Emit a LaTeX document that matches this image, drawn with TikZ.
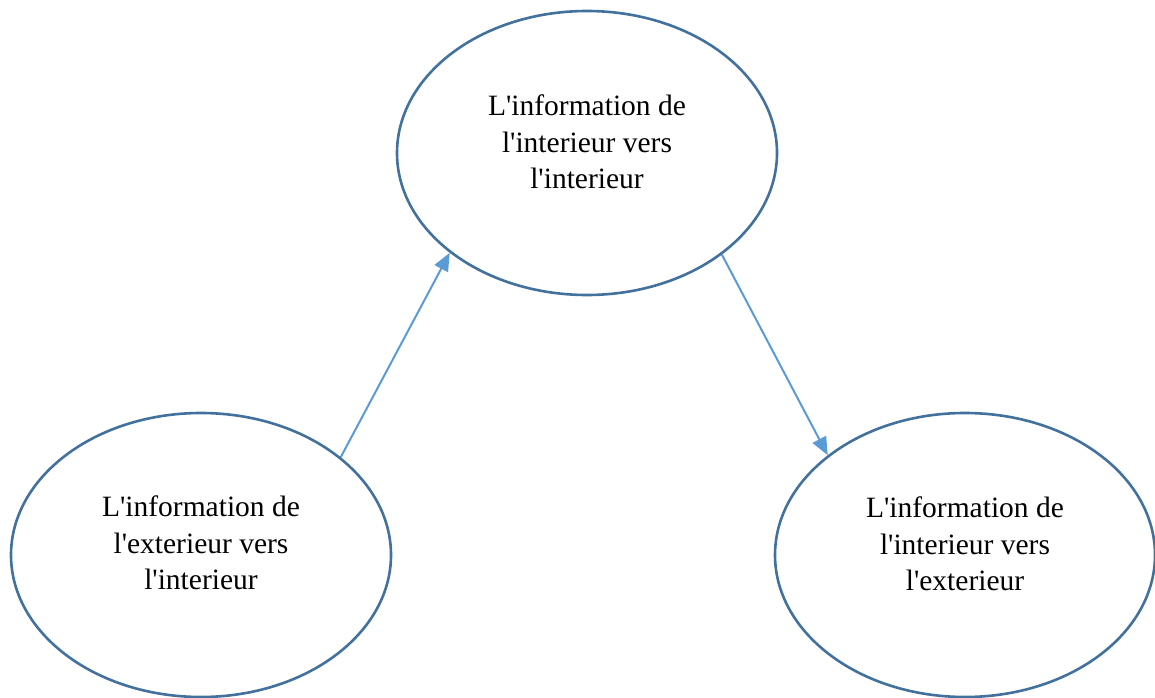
\documentclass[tikz,border=0pt]{standalone}
\usepackage{fontspec}
\setmainfont{Liberation Serif}
\usetikzlibrary{shapes.geometric,arrows.meta}
\definecolor{ellblue}{HTML}{41719C}
\definecolor{arrblue}{HTML}{5B9BD5}
\newcommand{\apos}{\textquotesingle}
\tikzset{
  infobulle/.style={ellipse, draw=ellblue, line width=2.6pt, minimum width=380pt,
    minimum height=284pt, inner sep=0pt, align=center,
    font=\fontsize{29.5}{36.5}\selectfont},
  fleche/.style={draw=arrblue, line width=2pt, -{Triangle[length=18pt,width=15pt]}}
}
\begin{document}
\begin{tikzpicture}[x=1pt,y=1pt]
        \useasboundingbox (0,0) rectangle (1155,697);
        % Draw the three ellipses
        \node[infobulle] (haut) at (587, 544) {\raisebox{8pt}[\height][\depth]{\begin{tabular}{c}L\apos information de\\l\apos interieur vers\\l\apos interieur\end{tabular}}};
        \node[infobulle] (gauche) at (201, 142) {\raisebox{9pt}[\height][\depth]{\begin{tabular}{c}L\apos information de\\l\apos exterieur vers\\l\apos interieur\end{tabular}}};
        \node[infobulle] (droite) at (965, 142) {\raisebox{8pt}[\height][\depth]{\begin{tabular}{c}L\apos information de\\l\apos interieur vers\\l\apos exterieur\end{tabular}}};

        % Draw the arrows between them
        \draw[fleche] (gauche.35) -- (haut.216);
        \draw[fleche] (haut.323) -- (droite.144);
    \end{tikzpicture}
\end{document}
